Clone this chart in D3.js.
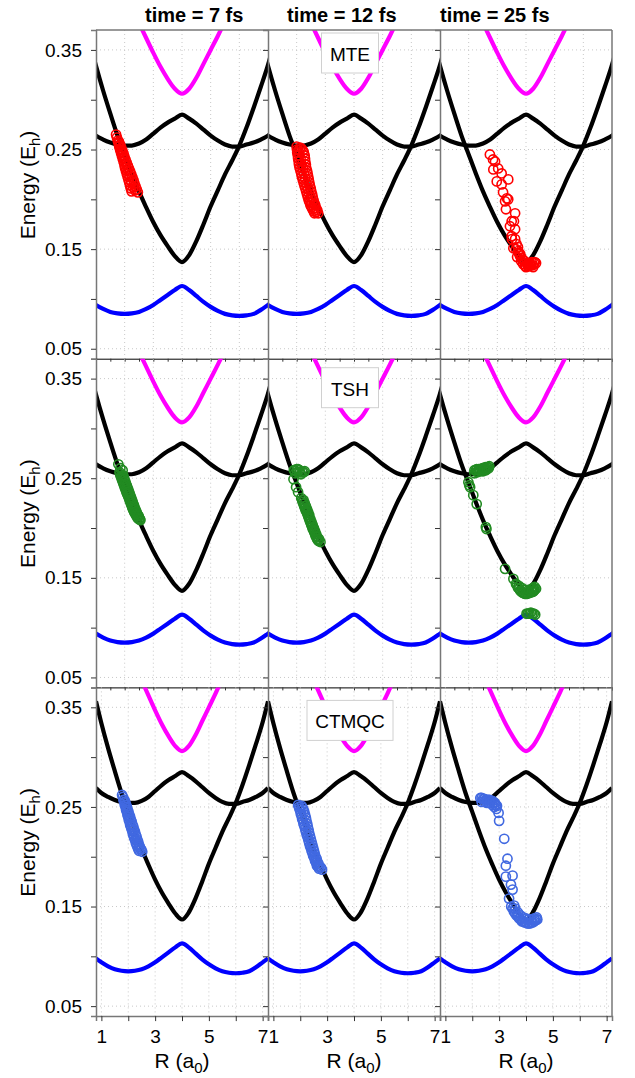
<!DOCTYPE html>
<html>
<head>
<meta charset="utf-8">
<script src="https://cdn.jsdelivr.net/npm/d3@7"></script>
<style>
  body { margin: 0; background: #fff; }
  text { font-family: "Liberation Sans", Arial, sans-serif; }
</style>
</head>
<body>
<svg id="chart"></svg>
<script>
// column titles, row methods and marker colours
var times = ['time = 7 fs', 'time = 12 fs', 'time = 25 fs']
var methods = ['MTE', 'TSH', 'CTMQC']
var markerColors = ['#ff0000', '#228b22', '#4169e1']

// potential energy curves (R in a0, E in Eh)
var curveR = [0.8, 1.0, 1.25, 1.5, 1.75, 2.0, 2.25, 2.5, 2.75, 3.0, 3.25, 3.5, 3.75, 4.0,
  4.25, 4.5, 4.75, 5.0, 5.25, 5.5, 5.75, 6.0, 6.25, 6.5, 6.75, 7.0, 7.2]
var blueE = [0.098, 0.094, 0.090, 0.087, 0.0855, 0.085, 0.0855, 0.087, 0.090, 0.094, 0.099, 0.104, 0.109, 0.113,
  0.109, 0.103, 0.097, 0.092, 0.088, 0.085, 0.0835, 0.083, 0.0835, 0.085, 0.089, 0.094, 0.098]
var blackLowE = [0.356, 0.334, 0.309, 0.286, 0.264, 0.245, 0.226, 0.208, 0.192, 0.177, 0.164, 0.153, 0.143, 0.137,
  0.144, 0.158, 0.175, 0.193, 0.209, 0.225, 0.239, 0.254, 0.272, 0.292, 0.313, 0.335, 0.356]
var blackUpE = [0.269, 0.264, 0.260, 0.257, 0.255, 0.254, 0.254, 0.256, 0.260, 0.266, 0.272, 0.277, 0.281, 0.285,
  0.281, 0.276, 0.270, 0.264, 0.259, 0.255, 0.253, 0.253, 0.255, 0.257, 0.260, 0.264, 0.269]
var magentaR = [2.5, 2.75, 3.0, 3.25, 3.5, 3.75, 4.0, 4.25, 4.5, 4.75, 5.0, 5.25, 5.5]
var magentaE = [0.377, 0.362, 0.347, 0.333, 0.321, 0.311, 0.306, 0.311, 0.322, 0.336, 0.350, 0.364, 0.379]

// trajectory positions [R, E], one list per panel
var mte7 = [[1.70, 0.265], [1.73, 0.262], [1.76, 0.259], [1.79, 0.256], [1.81, 0.253], [1.84, 0.250], [1.87, 0.247],
  [1.90, 0.244], [1.93, 0.241], [1.96, 0.238], [1.99, 0.235], [2.01, 0.232], [2.04, 0.229], [2.07, 0.226],
  [2.10, 0.223], [2.13, 0.220], [2.16, 0.217], [2.19, 0.214], [2.21, 0.211], [2.24, 0.208],
  [1.80, 0.258], [1.84, 0.255], [1.88, 0.252], [1.92, 0.249], [1.96, 0.246], [1.99, 0.243], [2.03, 0.240],
  [2.07, 0.237], [2.11, 0.234], [2.15, 0.231], [2.19, 0.228], [2.23, 0.225], [2.27, 0.222], [2.31, 0.219],
  [2.34, 0.216], [2.38, 0.213], [2.42, 0.210], [2.46, 0.207],
  [1.84, 0.254], [1.90, 0.248], [1.96, 0.242], [2.03, 0.236], [2.10, 0.230], [2.17, 0.224], [2.23, 0.218],
  [2.30, 0.212], [2.36, 0.209]]
var mte12 = [[2.00, 0.253], [2.01, 0.250], [2.02, 0.247], [2.04, 0.244], [2.05, 0.241], [2.07, 0.238], [2.08, 0.235],
  [2.10, 0.232], [2.13, 0.229], [2.16, 0.226], [2.18, 0.223], [2.21, 0.220], [2.24, 0.217], [2.27, 0.214],
  [2.30, 0.211], [2.33, 0.208], [2.36, 0.205], [2.39, 0.202], [2.42, 0.199], [2.45, 0.197], [2.48, 0.194],
  [2.52, 0.192], [2.55, 0.190], [2.59, 0.188], [2.62, 0.186],
  [2.12, 0.252], [2.17, 0.251], [2.22, 0.249], [2.25, 0.247], [2.28, 0.244], [2.29, 0.241], [2.30, 0.238],
  [2.32, 0.235], [2.33, 0.232], [2.36, 0.229], [2.38, 0.226], [2.40, 0.223], [2.42, 0.220], [2.44, 0.217],
  [2.46, 0.214], [2.49, 0.211], [2.51, 0.208], [2.54, 0.205], [2.56, 0.202], [2.59, 0.199], [2.62, 0.196],
  [2.65, 0.194], [2.68, 0.191], [2.72, 0.189], [2.75, 0.186],
  [2.06, 0.249], [2.10, 0.244], [2.14, 0.240], [2.18, 0.235], [2.22, 0.231], [2.26, 0.226], [2.30, 0.221],
  [2.34, 0.216], [2.39, 0.211], [2.43, 0.206], [2.48, 0.202], [2.52, 0.197], [2.60, 0.191], [2.68, 0.187]]
var mte25 = [[2.74, 0.245], [2.92, 0.238], [2.86, 0.230], [3.03, 0.231], [3.15, 0.226], [3.38, 0.220], [2.98, 0.218],
  [3.15, 0.215], [2.85, 0.240], [3.20, 0.207], [3.33, 0.201], [3.27, 0.198], [3.38, 0.200], [3.30, 0.190],
  [3.62, 0.186], [3.50, 0.178], [3.58, 0.178], [3.44, 0.173], [3.62, 0.170], [3.50, 0.163], [3.62, 0.160],
  [3.51, 0.160], [3.67, 0.155], [3.56, 0.151], [3.73, 0.148], [3.79, 0.143], [3.69, 0.142], [3.90, 0.139],
  [3.83, 0.138], [4.02, 0.136], [4.14, 0.134], [3.97, 0.133], [4.07, 0.133], [4.20, 0.137], [4.24, 0.134],
  [4.31, 0.137],
  [3.65, 0.150], [3.72, 0.152], [3.75, 0.146], [3.80, 0.145], [3.85, 0.141], [3.95, 0.138], [4.05, 0.135],
  [4.12, 0.136], [4.18, 0.134], [4.28, 0.136], [4.35, 0.136], [3.90, 0.135], [4.00, 0.132], [4.10, 0.133],
  [4.25, 0.132]]
var tsh7 = [[1.78, 0.264], [1.93, 0.258], [1.85, 0.260],
  [1.82, 0.256], [1.84, 0.254], [1.86, 0.252], [1.89, 0.250], [1.91, 0.248], [1.94, 0.246], [1.96, 0.244],
  [1.99, 0.242], [2.01, 0.240], [2.04, 0.238], [2.06, 0.236], [2.09, 0.234], [2.12, 0.232], [2.15, 0.230],
  [2.17, 0.228], [2.20, 0.226], [2.22, 0.224], [2.25, 0.222], [2.27, 0.220], [2.30, 0.218], [2.33, 0.216],
  [2.36, 0.215], [2.39, 0.213], [2.42, 0.212], [2.45, 0.210],
  [1.95, 0.253], [1.97, 0.251], [1.99, 0.249], [2.02, 0.247], [2.04, 0.245], [2.07, 0.243], [2.09, 0.241],
  [2.12, 0.239], [2.14, 0.237], [2.17, 0.235], [2.19, 0.233], [2.22, 0.231], [2.24, 0.229], [2.27, 0.227],
  [2.29, 0.225], [2.32, 0.223], [2.34, 0.221], [2.37, 0.219], [2.40, 0.217], [2.43, 0.215], [2.46, 0.213],
  [2.49, 0.212], [2.51, 0.210], [2.53, 0.209], [2.55, 0.208],
  [1.90, 0.252], [2.00, 0.244], [2.10, 0.236], [2.20, 0.228], [2.30, 0.221], [2.40, 0.214], [2.50, 0.209]]
var tsh12 = [[1.90, 0.258], [2.00, 0.259], [2.10, 0.258], [2.20, 0.256], [2.28, 0.257], [1.95, 0.255], [2.15, 0.254],
  [1.92, 0.258], [2.05, 0.259], [2.25, 0.256], [2.02, 0.256], [2.12, 0.256],
  [1.89, 0.249], [1.98, 0.241], [2.05, 0.236],
  [2.16, 0.230], [2.19, 0.228], [2.21, 0.226], [2.24, 0.224], [2.26, 0.222], [2.29, 0.220], [2.31, 0.218],
  [2.34, 0.217], [2.36, 0.215], [2.39, 0.213], [2.41, 0.211], [2.44, 0.209], [2.46, 0.207], [2.49, 0.205],
  [2.51, 0.203], [2.54, 0.201], [2.56, 0.199], [2.59, 0.198], [2.61, 0.196], [2.64, 0.194], [2.66, 0.192],
  [2.69, 0.191], [2.71, 0.189], [2.74, 0.188], [2.76, 0.187], [2.83, 0.186],
  [2.24, 0.228], [2.28, 0.225], [2.32, 0.222], [2.36, 0.219], [2.40, 0.216], [2.44, 0.213], [2.48, 0.209],
  [2.52, 0.206], [2.56, 0.203], [2.60, 0.200], [2.64, 0.197], [2.68, 0.194], [2.72, 0.191], [2.78, 0.189]]
var tsh25 = [[2.25, 0.258], [2.35, 0.259], [2.45, 0.259], [2.55, 0.260], [2.65, 0.261], [2.72, 0.262], [2.30, 0.256],
  [2.50, 0.257], [2.60, 0.258], [2.20, 0.258], [2.28, 0.259], [2.40, 0.259], [2.48, 0.260], [2.58, 0.261],
  [2.68, 0.261], [2.40, 0.257], [2.53, 0.259], [2.63, 0.259], [2.70, 0.260], [2.20, 0.255], [2.33, 0.258],
  [1.99, 0.246], [2.05, 0.241], [2.16, 0.233], [2.28, 0.224], [2.02, 0.243], [2.60, 0.201], [2.62, 0.199],
  [3.27, 0.159], [3.56, 0.149],
  [3.65, 0.144], [3.72, 0.140], [3.80, 0.137], [3.88, 0.135], [3.95, 0.134], [4.05, 0.134], [4.15, 0.135],
  [4.25, 0.136], [4.30, 0.138], [3.85, 0.140], [4.00, 0.138], [4.20, 0.139],
  [3.68, 0.143], [3.76, 0.139], [3.84, 0.136], [3.92, 0.135], [4.00, 0.134], [4.10, 0.135], [4.20, 0.136],
  [4.28, 0.137], [3.90, 0.138], [4.10, 0.138], [4.25, 0.140], [3.75, 0.142], [4.30, 0.141], [4.35, 0.139],
  [4.02, 0.114], [4.07, 0.114], [4.12, 0.114], [4.17, 0.115], [4.22, 0.114], [4.27, 0.114], [4.32, 0.113]]
var ctmqc7 = [[1.77, 0.262], [1.80, 0.260], [1.82, 0.257], [1.85, 0.255], [1.87, 0.252], [1.90, 0.250],
  [1.92, 0.247], [1.95, 0.245], [1.97, 0.242], [2.00, 0.240], [2.02, 0.237], [2.05, 0.235], [2.07, 0.232],
  [2.10, 0.230], [2.12, 0.228], [2.15, 0.226], [2.17, 0.223], [2.20, 0.221], [2.22, 0.219], [2.25, 0.217],
  [2.28, 0.214], [2.31, 0.212], [2.34, 0.210], [2.37, 0.208], [2.40, 0.206],
  [1.86, 0.257], [1.89, 0.255], [1.92, 0.252], [1.95, 0.250], [1.98, 0.247], [2.01, 0.245], [2.04, 0.242],
  [2.07, 0.240], [2.10, 0.237], [2.13, 0.235], [2.16, 0.232], [2.19, 0.230], [2.22, 0.227], [2.25, 0.225],
  [2.28, 0.222], [2.31, 0.220], [2.34, 0.217], [2.37, 0.215], [2.40, 0.212], [2.43, 0.210], [2.46, 0.208],
  [2.49, 0.207], [2.52, 0.205]]
var ctmqc12 = [[1.92, 0.252], [1.95, 0.250], [1.97, 0.248], [2.00, 0.246], [2.02, 0.243], [2.05, 0.241],
  [2.07, 0.238], [2.10, 0.236], [2.12, 0.233], [2.15, 0.231], [2.18, 0.228], [2.21, 0.225], [2.24, 0.222],
  [2.27, 0.220], [2.30, 0.217], [2.33, 0.214], [2.36, 0.211], [2.39, 0.209], [2.42, 0.206], [2.45, 0.204],
  [2.48, 0.201], [2.52, 0.199], [2.55, 0.196], [2.59, 0.194], [2.62, 0.191], [2.66, 0.190], [2.70, 0.188],
  [2.05, 0.251], [2.09, 0.249], [2.12, 0.247], [2.15, 0.245], [2.18, 0.242], [2.21, 0.239], [2.23, 0.236],
  [2.26, 0.233], [2.28, 0.230], [2.31, 0.227], [2.33, 0.224], [2.36, 0.221], [2.39, 0.218], [2.42, 0.215],
  [2.45, 0.212], [2.48, 0.209], [2.51, 0.206], [2.54, 0.203], [2.57, 0.200], [2.61, 0.198], [2.64, 0.195],
  [2.68, 0.193], [2.72, 0.190], [2.77, 0.189], [2.81, 0.187]]
var ctmqc25 = [[2.30, 0.259], [2.40, 0.258], [2.50, 0.257], [2.60, 0.257], [2.70, 0.256], [2.80, 0.255], [2.88, 0.252],
  [2.35, 0.255], [2.55, 0.254], [2.75, 0.252], [2.35, 0.259], [2.45, 0.258], [2.55, 0.257], [2.65, 0.257],
  [2.75, 0.256], [2.84, 0.254], [2.45, 0.255], [2.65, 0.254], [2.82, 0.250], [2.90, 0.248],
  [2.92, 0.251], [2.98, 0.244], [3.00, 0.236], [3.19, 0.218], [3.31, 0.198], [3.25, 0.191], [3.50, 0.181],
  [3.25, 0.180], [3.44, 0.172], [3.50, 0.167], [3.37, 0.158], [3.56, 0.151],
  [3.45, 0.150], [3.55, 0.145], [3.65, 0.141], [3.75, 0.138], [3.85, 0.135], [3.95, 0.134], [4.05, 0.133],
  [4.15, 0.133], [4.25, 0.134], [4.35, 0.136], [4.42, 0.137], [3.60, 0.148], [4.20, 0.137],
  [3.50, 0.148], [3.60, 0.143], [3.70, 0.140], [3.80, 0.137], [3.90, 0.135], [4.00, 0.134], [4.10, 0.133],
  [4.20, 0.134], [4.30, 0.135], [4.40, 0.137], [3.70, 0.144], [3.90, 0.139], [4.10, 0.137], [4.30, 0.138],
  [3.80, 0.141], [4.00, 0.138], [4.40, 0.139]]
var points = [[mte7, mte12, mte25], [tsh7, tsh12, tsh25], [ctmqc7, ctmqc12, ctmqc25]]

// axis ticks
var yTicks = [0.05, 0.10, 0.15, 0.20, 0.25, 0.30, 0.35]
var yLabels = ['0.05', '', '0.15', '', '0.25', '', '0.35']
var xMinorTicks = [1, 1.5, 2, 2.5, 3, 3.5, 4, 4.5, 5, 5.5, 6, 6.5, 7]
var xTicks = [1, 2, 3, 4, 5, 6, 7]
var xLabels = ['1', '', '3', '', '5', '', '7']

var width = 635
var height = 1078
var left0 = 96
var colW = 172
var top0 = 30
var rowH = 328.7

var svg = d3.select('#chart').attr('width', width).attr('height', height)

var y = d3.scaleLinear().domain([0.04, 0.37]).range([rowH, 0])
var xNarrow = d3.scaleLinear().domain([1, 7]).range([0, colW])
var xWide = d3.scaleLinear().domain([0.8, 7.2]).range([0, colW])

var defs = svg.append('defs')
defs.append('clipPath').attr('id', 'clip')
  .append('rect').attr('width', colW).attr('height', rowH)

// legend box positions inside each row (box centre x, box top, box width)
var legendBox = [[254, 3, 57], [254, 9, 57], [254, 13, 86]]

for (var r = 0; r < 3; r++) {
  var x = r < 2 ? xNarrow : xWide
  for (var c = 0; c < 3; c++) {
    var g = svg.append('g')
      .attr('transform', 'translate(' + (left0 + c * colW) + ',' + (top0 + r * rowH) + ')')

    // dotted grid
    var gx = r < 2 ? [2, 3, 4, 5, 6] : xTicks
    g.selectAll('.vgrid').data(gx).enter().append('line')
      .attr('x1', function (d) { return x(d) }).attr('x2', function (d) { return x(d) })
      .attr('y1', 0).attr('y2', rowH)
      .attr('stroke', '#c8c8c8').attr('stroke-width', 1).attr('stroke-dasharray', '1,3')
    g.selectAll('.hgrid').data([0.05, 0.15, 0.25, 0.35]).enter().append('line')
      .attr('x1', 0).attr('x2', colW)
      .attr('y1', function (d) { return y(d) }).attr('y2', function (d) { return y(d) })
      .attr('stroke', '#c8c8c8').attr('stroke-width', 1).attr('stroke-dasharray', '1,3')

    var plot = g.append('g').attr('clip-path', 'url(#clip)')
    var line = d3.line()
      .x(function (d) { return x(d[0]) })
      .y(function (d) { return y(d[1]) })
      .curve(d3.curveMonotoneX)
    var curves = [
      [d3.zip(curveR, blueE), '#0000ff'],
      [d3.zip(curveR, blackLowE), '#000000'],
      [d3.zip(curveR, blackUpE), '#000000'],
      [d3.zip(magentaR, magentaE), '#ff00ff']
    ]
    curves.forEach(function (cv) {
      plot.append('path')
        .attr('d', line(cv[0]))
        .attr('fill', 'none')
        .attr('stroke', cv[1])
        .attr('stroke-width', 4.2)
        .attr('stroke-linejoin', 'round')
    })

    plot.selectAll('.dot').data(points[r][c]).enter().append('circle')
      .attr('cx', function (d) { return x(d[0]) })
      .attr('cy', function (d) { return y(d[1]) })
      .attr('r', 4.6)
      .attr('fill', 'none')
      .attr('stroke', markerColors[r])
      .attr('stroke-width', 1.6)

    // left axis: outward ticks, labels only on the first column
    var yAxis = d3.axisLeft(y).tickValues(yTicks).tickSize(5).tickPadding(9)
      .tickFormat(function (d, i) { return c === 0 ? yLabels[i] : '' })
    var ya = g.append('g').call(yAxis)
    ya.select('.domain').attr('stroke', '#777').attr('stroke-width', 1.5)
    ya.selectAll('.tick line').attr('stroke', '#333')
    ya.selectAll('.tick text').attr('font-size', 19).attr('fill', '#000')
      .style('font-family', '"Liberation Sans", Arial, sans-serif')

    // bottom axis
    var xa
    if (r < 2) {
      xa = g.append('g').attr('transform', 'translate(0,' + rowH + ')')
        .call(d3.axisBottom(x).tickValues(xMinorTicks).tickSize(3).tickFormat(''))
      xa.select('.domain').attr('stroke', '#000').attr('stroke-width', 1)
    } else {
      xa = g.append('g').attr('transform', 'translate(0,' + rowH + ')')
        .call(d3.axisBottom(x).tickValues(xTicks).tickSize(5).tickPadding(8)
          .tickFormat(function (d, i) { return xLabels[i] }))
      xa.select('.domain').attr('stroke', '#777').attr('stroke-width', 1.5)
      xa.selectAll('.tick text').attr('font-size', 19).attr('fill', '#000')
        .style('font-family', '"Liberation Sans", Arial, sans-serif')
    }
    xa.selectAll('.tick line').attr('stroke', '#333')

    // top and right frame
    if (r === 0) {
      g.append('line').attr('x1', 0).attr('x2', colW).attr('y1', 0).attr('y2', 0)
        .attr('stroke', '#777').attr('stroke-width', 1.5)
    }
    if (c === 2) {
      g.append('line').attr('x1', colW).attr('x2', colW).attr('y1', 0).attr('y2', rowH)
        .attr('stroke', '#777').attr('stroke-width', 1.5)
    }

    // method label box in the middle column
    if (c === 1) {
      var lb = legendBox[r]
      g.append('rect')
        .attr('x', lb[0] - colW - lb[2] / 2).attr('y', lb[1])
        .attr('width', lb[2]).attr('height', 40)
        .attr('fill', '#fff').attr('stroke', '#d0d0d0').attr('stroke-width', 1)
      g.append('text')
        .attr('x', lb[0] - colW).attr('y', lb[1] + 28)
        .attr('text-anchor', 'middle')
        .attr('font-size', 19)
        .text(methods[r])
    }
  }

  // y axis title
  var yt = svg.append('text')
    .attr('transform', 'translate(35,' + (top0 + r * rowH + 155) + ') rotate(-90)')
    .attr('text-anchor', 'middle')
    .attr('font-size', 21)
  yt.append('tspan').text('Energy (E')
  yt.append('tspan').attr('dy', 5).attr('font-size', 15).text('h')
  yt.append('tspan').attr('dy', -5).text(')')
}

// column titles
var titleX = [145, 287, 440]
svg.selectAll('.title').data(times).enter().append('text')
  .attr('x', function (d, i) { return titleX[i] })
  .attr('y', 22)
  .attr('font-size', 20)
  .attr('font-weight', 'bold')
  .text(function (d) { return d })

// x axis titles
for (var k = 0; k < 3; k++) {
  var xt = svg.append('text')
    .attr('x', left0 + k * colW + 86)
    .attr('y', 1068)
    .attr('text-anchor', 'middle')
    .attr('font-size', 21)
  xt.append('tspan').text('R (a')
  xt.append('tspan').attr('dy', 5).attr('font-size', 15).text('0')
  xt.append('tspan').attr('dy', -5).text(')')
}
</script>
</body>
</html>
